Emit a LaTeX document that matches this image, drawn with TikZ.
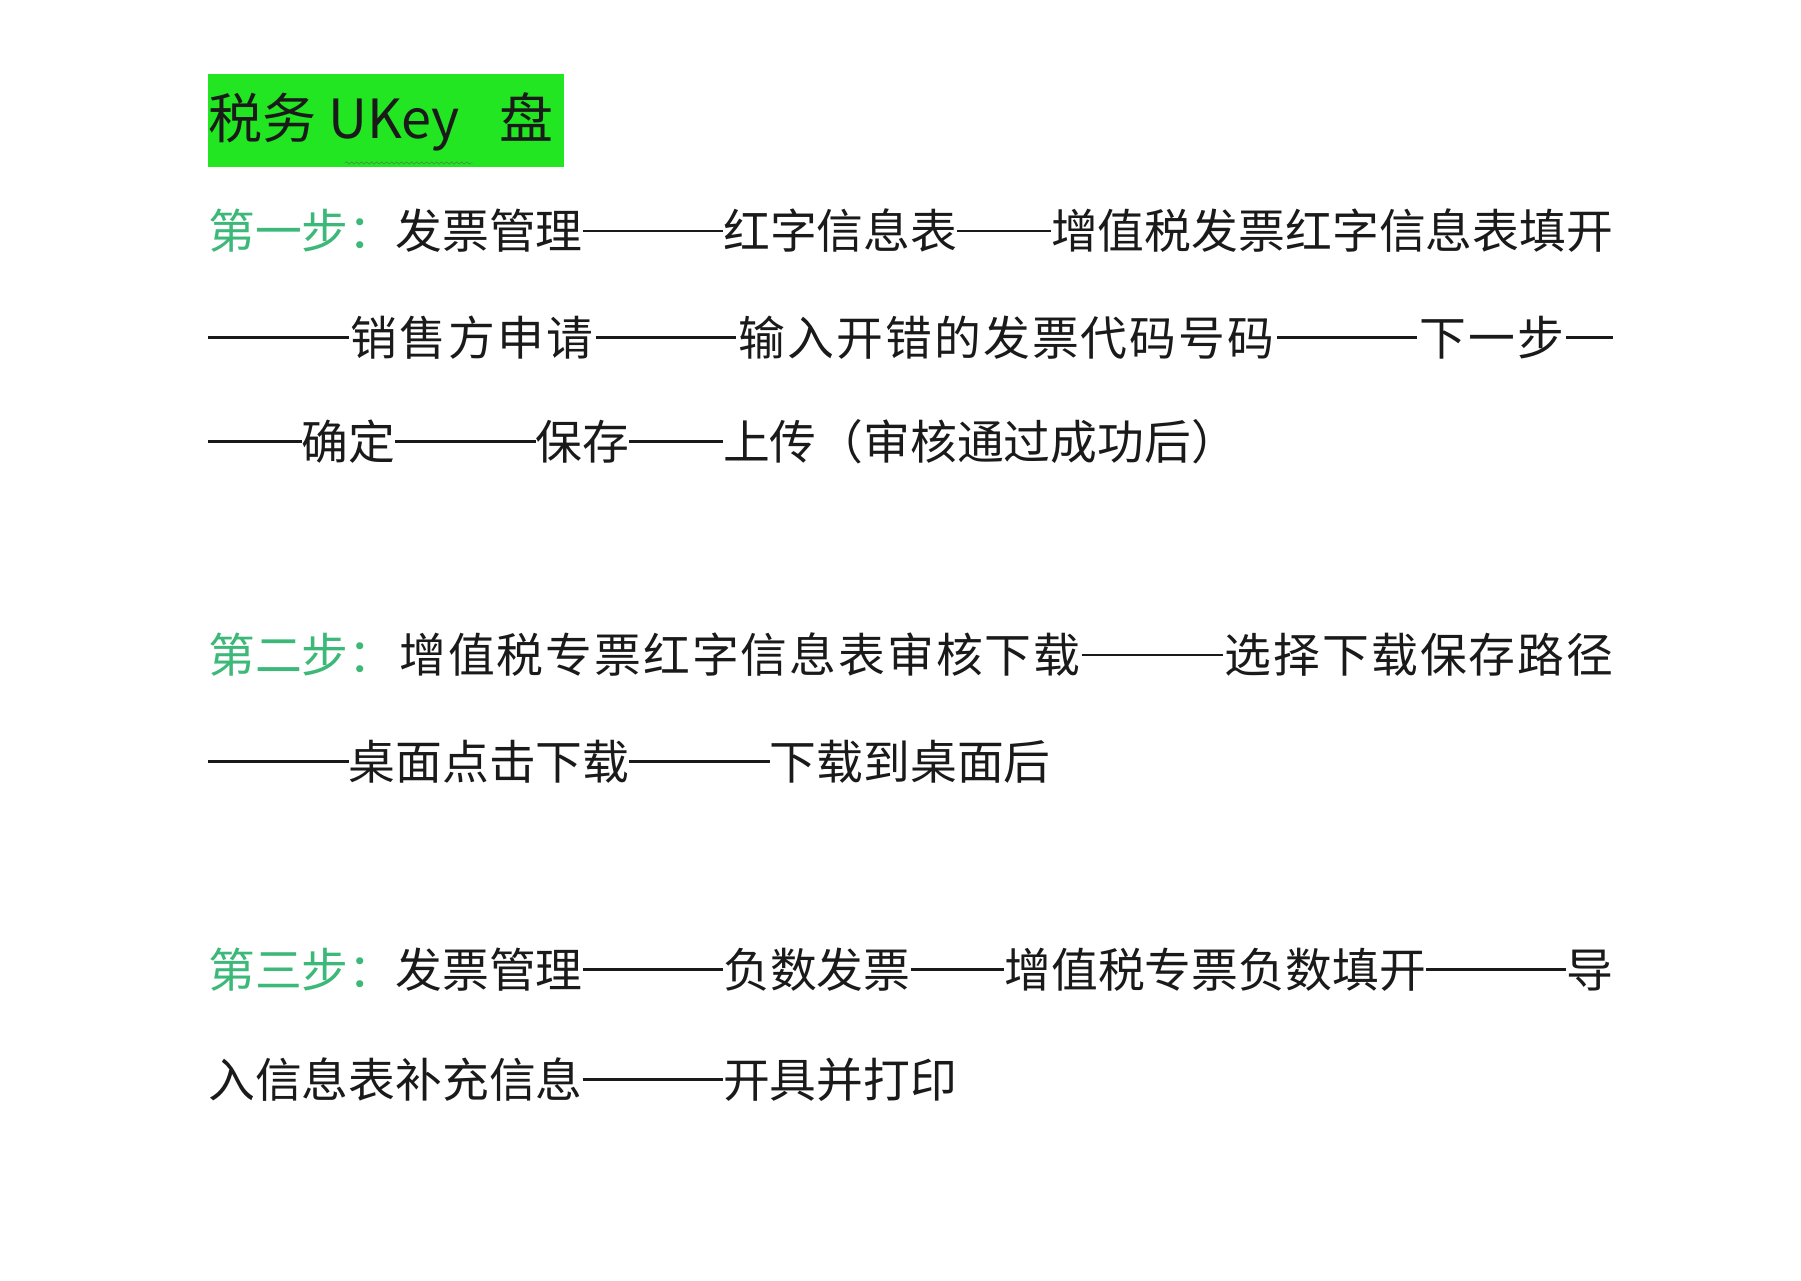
\documentclass[tikz,border=0pt]{standalone}
\usepackage{fontspec}
\setmainfont{Noto Sans CJK SC}
\usetikzlibrary{positioning,decorations.pathmorphing}
\definecolor{titlegreen}{HTML}{22E622}
\definecolor{stepgreen}{HTML}{3CB878}
\definecolor{inkgray}{HTML}{1A1A1A}
% spread the units of one line over the full width
\def\stopmac{\relax}
\def\spreadchars#1{\def\tmp{#1}\ifx\tmp\stopmac\let\next\relax\else#1\hfil\let\next\spreadchars\fi\next}
\newcommand{\fullline}[1]{\hbox to 1405pt{\spreadchars#1\relax\unskip}}
\newcommand{\steplabel}[1]{{\color{stepgreen}#1}}
% full-width dash run, #1 = number of dashes
\newcommand{\dashrun}[1]{{\rule[0.36em]{#1em}{0.055em}}}

\begin{document}
\begin{tikzpicture}[x=1pt,y=-1pt,
    textline/.style={anchor=west,inner sep=0pt,text=inkgray,font=\fontsize{46.8}{50}\selectfont}]
    \path[use as bounding box,fill=white] (0,0) rectangle (1801,1280);

    % Title
    \fill[titlegreen] (208,74) rectangle (564,167);
    \node[textline,font=\fontsize{54}{58}\selectfont] (title) at (208,122) {税务 UKey\hspace{40pt}盘};
    \draw[inkgray!70,decoration={snake,amplitude=1.2pt,segment length=5pt},decorate]
        (345,163) -- (473,163);

    % Step one
    \node[textline] (s1a) at (208,231) {\fullline{{\steplabel{第一步：}}发票管理{\dashrun{3}}红字信息表{\dashrun{2}}增值税发票红字信息表填开}};
    \node[textline] (s1b) at (208,338) {\fullline{{\dashrun{3}}销售方申请{\dashrun{3}}输入开错的发票代码号码{\dashrun{3}}下一步{\dashrun{1}}}};
    \node[textline] (s1c) at (208,442) {\dashrun{2}确定\dashrun{3}保存\dashrun{2}上传（审核通过成功后）};

    % Step two
    \node[textline] (s2a) at (208,655) {\fullline{{\steplabel{第二步：}}{}增值税专票红字信息表审核下载{\dashrun{3}}选择下载保存路径}};
    \node[textline] (s2b) at (208,762) {\dashrun{3}桌面点击下载\dashrun{3}下载到桌面后};

    % Step three
    \node[textline] (s3a) at (208,970) {\fullline{{\steplabel{第三步：}}发票管理{\dashrun{3}}负数发票{\dashrun{2}}增值税专票负数填开{\dashrun{3}}导}};
    \node[textline] (s3b) at (208,1080) {入信息表补充信息\dashrun{3}开具并打印};
\end{tikzpicture}
\end{document}
